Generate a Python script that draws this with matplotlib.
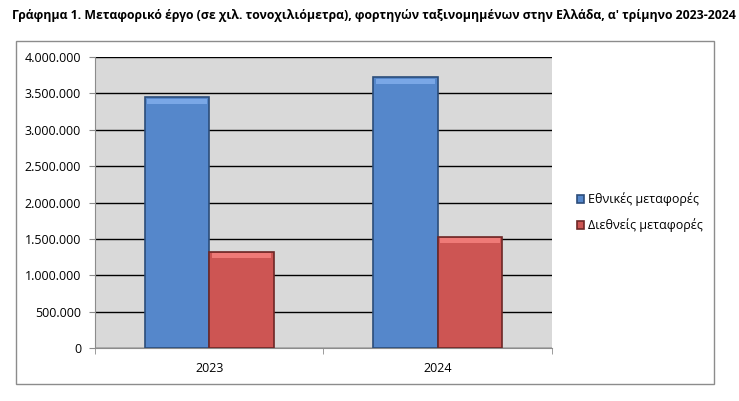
import numpy as np
import matplotlib
matplotlib.use("Agg")
import matplotlib.pyplot as plt
from matplotlib.patches import Rectangle
from matplotlib.ticker import FuncFormatter, FixedLocator

plt.rcParams['font.family'] = ['Open Sans', 'DejaVu Sans']

# ---------------------------------------------------------------------------
#  Data (thousand tonne-km, Q1)
# ---------------------------------------------------------------------------
years = ["2023", "2024"]
national = [3446000, 3721000]
international = [1324000, 1530000]
series_labels = ["Εθνικές μεταφορές", "Διεθνείς μεταφορές"]
title = "Γράφημα 1. Μεταφορικό έργο (σε χιλ. τονοχιλιόμετρα), φορτηγών ταξινομημένων στην Ελλάδα, α' τρίμηνο 2023-2024"

# ---------------------------------------------------------------------------
#  Plotting
# ---------------------------------------------------------------------------
fig = plt.figure(figsize=(7.39, 4.01), dpi=100)
ax = fig.add_axes([95/739, 53/401, 457/739, 291/401])

# outer chart frame
fig.patches.append(Rectangle((16/739, 17/401), 698/739, 343/401,
                             transform=fig.transFigure, fill=False,
                             edgecolor="#8c8c8c", lw=1.0, zorder=0))

x = np.arange(len(years))
w = 0.282
ax.set_facecolor("#d9d9d9")
ax.bar(x - w/2, national, w, color="#5587cb", edgecolor="#2c4d7a", lw=1.2,
       label=series_labels[0], zorder=3)
ax.bar(x + w/2, international, w, color="#cd5553", edgecolor="#6e2726", lw=1.2,
       label=series_labels[1], zorder=3)

# light bevel strip at the top of each bar
hl = 70000
ax.bar(x - w/2, hl, w * 0.92, bottom=np.array(national) - hl * 1.25,
       color="#7aa7e6", lw=0, zorder=4)
ax.bar(x + w/2, hl, w * 0.92, bottom=np.array(international) - hl * 1.25,
       color="#ef7a77", lw=0, zorder=4)

ax.set_xlim(-0.5, 1.5)
ax.set_ylim(0, 4000000)
ax.set_yticks(np.arange(0, 4000001, 500000))
ax.yaxis.set_major_formatter(FuncFormatter(lambda v, p: f"{int(v):,}".replace(",", ".")))
ax.grid(axis="y", color="black", lw=1.0, zorder=1)

ax.set_xticks(x)
ax.set_xticklabels(years)
ax.xaxis.set_minor_locator(FixedLocator([-0.5, 0.5, 1.5]))
ax.tick_params(axis="x", which="major", length=0, pad=10, labelsize=9)
ax.tick_params(axis="x", which="minor", length=4, color="#8c8c8c")
ax.tick_params(axis="y", length=4, color="#8c8c8c", labelsize=9, pad=6)

for s in ["top", "right"]:
    ax.spines[s].set_visible(False)
for s in ["left", "bottom"]:
    ax.spines[s].set_color("#8c8c8c")

ax.legend(loc="center left", bbox_to_anchor=(1.03, 0.466), frameon=False,
          fontsize=9, handlelength=0.6, handleheight=0.6, handletextpad=0.3,
          labelspacing=1.0)

fig.text(12/739, 1 - 15/401, title, fontsize=8.8, fontweight="bold",
         va="center", ha="left")

fig.savefig("out.png", dpi=100)
